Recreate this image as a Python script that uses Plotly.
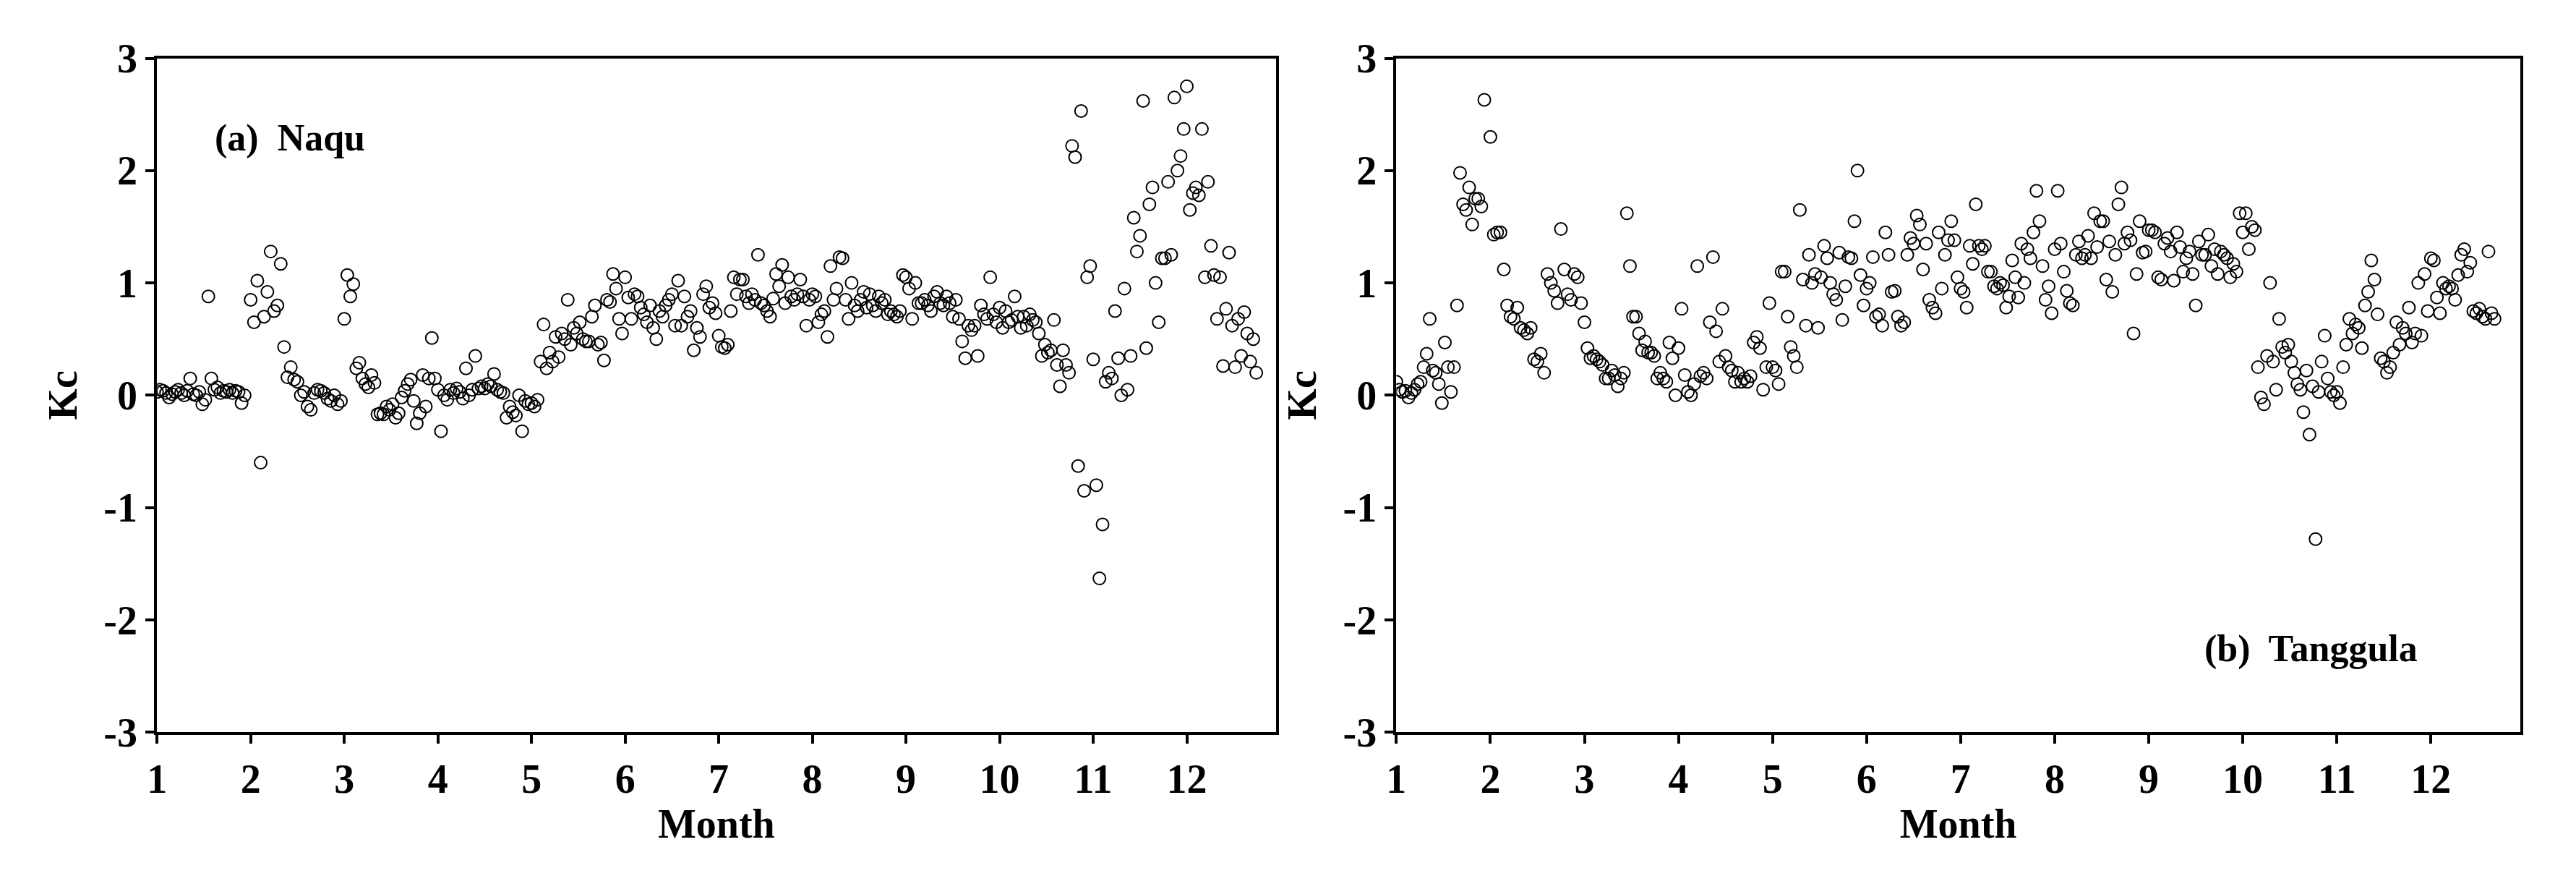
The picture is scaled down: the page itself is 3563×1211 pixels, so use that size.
import plotly.graph_objects as go
from plotly.subplots import make_subplots

days_in_month = [31, 28, 31, 30, 31, 30, 31, 31, 30, 31, 30, 31]

# Naqu daily Kc, one list per month
naqu = [
    [0.03, 0.05, 0.04, 0.02, -0.02, 0.01, 0.03, 0.05, 0.02, 0.0, 0.04, 0.15, 0.01, 0.0, 0.03,
     -0.08, -0.04, 0.88, 0.15, 0.05, 0.07, 0.02, 0.04, 0.03, 0.05, 0.02, 0.04, 0.03, -0.07, 0.0],
    [0.85, 0.65, 1.02, -0.6, 0.7, 0.92, 1.28, 0.75, 0.8, 1.17, 0.43, 0.16, 0.25, 0.14, 0.12,
     0.0, 0.03, -0.1, -0.13, 0.02, 0.05, 0.04, 0.02, -0.03, -0.05, 0.0, -0.08, -0.05],
    [0.68, 1.07, 0.88, 0.99, 0.24, 0.29, 0.15, 0.1, 0.07, 0.18, 0.11, -0.17, -0.16, -0.17, -0.1,
     -0.13, -0.08, -0.2, -0.16, -0.02, 0.04, 0.1, 0.14, -0.05, -0.25, -0.16, 0.18, -0.1, 0.15, 0.51, 0.15],
    [0.05, -0.32, 0.0, -0.04, 0.05, 0.02, 0.06, 0.03, -0.03, 0.24, 0.0, 0.05, 0.35, 0.06, 0.08,
     0.06, 0.1, 0.08, 0.19, 0.05, 0.03, 0.02, -0.2, -0.1, -0.15, -0.18, 0.0, -0.32, -0.05, -0.08],
    [-0.07, -0.1, -0.04, 0.3, 0.63, 0.24, 0.38, 0.3, 0.52, 0.34, 0.55, 0.5, 0.85, 0.45, 0.6,
     0.55, 0.65, 0.5, 0.48, 0.48, 0.7, 0.8, 0.45, 0.47, 0.31, 0.85, 0.83, 1.08, 0.95, 0.68, 0.55],
    [1.05, 0.87, 0.68, 0.9, 0.88, 0.78, 0.72, 0.65, 0.8, 0.6, 0.5, 0.75, 0.7, 0.8, 0.85,
     0.9, 0.62, 1.02, 0.62, 0.88, 0.7, 0.75, 0.4, 0.6, 0.52, 0.9, 0.97, 0.78, 0.82, 0.73],
    [0.53, 0.43, 0.42, 0.45, 0.75, 1.05, 0.9, 1.03, 1.03, 0.88, 0.82, 0.9, 0.85, 1.25, 0.82,
     0.8, 0.75, 0.7, 0.86, 1.08, 0.97, 1.16, 0.82, 1.05, 0.88, 0.85, 0.9, 1.03, 0.88, 0.62, 0.85],
    [0.9, 0.88, 0.65, 0.72, 0.75, 0.52, 1.15, 0.85, 0.95, 1.23, 1.22, 0.85, 0.68, 1.0, 0.8,
     0.75, 0.85, 0.92, 0.78, 0.9, 0.8, 0.75, 0.88, 0.82, 0.85, 0.72, 0.75, 0.72, 0.7, 0.75, 1.07],
    [1.05, 0.95, 0.68, 1.0, 0.82, 0.82, 0.85, 0.8, 0.75, 0.88, 0.92, 0.82, 0.8, 0.88, 0.82,
     0.7, 0.85, 0.68, 0.48, 0.33, 0.62, 0.58, 0.62, 0.35, 0.8, 0.72, 0.68, 1.05, 0.72, 0.65],
    [0.78, 0.6, 0.75, 0.65, 0.67, 0.88, 0.7, 0.6, 0.7, 0.62, 0.72, 0.67, 0.65, 0.55, 0.35,
     0.45, 0.38, 0.4, 0.67, 0.27, 0.08, 0.4, 0.27, 0.2, 2.22, 2.12, -0.63, 2.53, -0.85, 1.05, 1.15],
    [0.32, -0.8, -1.63, -1.15, 0.12, 0.2, 0.15, 0.75, 0.33, 0.0, 0.95, 0.05, 0.35, 1.58, 1.28,
     1.42, 2.62, 0.42, 1.7, 1.85, 1.0, 0.65, 1.22, 1.22, 1.9, 1.25, 2.65, 2.0, 2.13, 2.37],
    [2.75, 1.65, 1.8, 1.85, 1.78, 2.37, 1.05, 1.9, 1.33, 1.07, 0.68, 1.05, 0.26, 0.77, 1.27,
     0.62, 0.25, 0.68, 0.35, 0.74, 0.55, 0.3, 0.5, 0.2],
]

# Tanggula daily Kc, one list per month
tanggula = [
    [0.12, 0.05, 0.03, 0.04, -0.02, 0.02, 0.05, 0.1, 0.12, 0.25, 0.37, 0.68, 0.22, 0.2, 0.1,
     -0.07, 0.47, 0.25, 0.03, 0.25, 0.8, 1.98, 1.7, 1.65, 1.85, 1.52, 1.75, 1.75, 1.68, 2.63],
    [2.3, 1.43, 1.45, 1.45, 1.12, 0.8, 0.7, 0.68, 0.78, 0.6, 0.58, 0.55, 0.6, 0.32, 0.3,
     0.37, 0.2, 1.08, 1.0, 0.93, 0.82, 1.48, 1.12, 0.9, 0.85, 1.08, 1.05, 0.82],
    [0.65, 0.42, 0.33, 0.35, 0.32, 0.3, 0.27, 0.15, 0.15, 0.22, 0.18, 0.08, 0.15, 0.2, 1.62,
     1.15, 0.7, 0.7, 0.55, 0.4, 0.48, 0.38, 0.38, 0.35, 0.15, 0.2, 0.15, 0.12, 0.47, 0.33, 0.0],
    [0.42, 0.77, 0.18, 0.03, 0.0, 0.1, 1.15, 0.17, 0.2, 0.15, 0.65, 1.23, 0.57, 0.3, 0.77,
     0.35, 0.25, 0.22, 0.12, 0.2, 0.12, 0.15, 0.12, 0.17, 0.47, 0.52, 0.42, 0.05, 0.25, 0.82],
    [0.25, 0.22, 0.1, 1.1, 1.1, 0.7, 0.43, 0.35, 0.25, 1.65, 1.03, 0.62, 1.25, 1.0, 1.08,
     0.6, 1.05, 1.33, 1.22, 1.0, 0.9, 0.85, 1.27, 0.67, 0.97, 1.23, 1.22, 1.55, 2.0, 1.07, 0.8],
    [0.95, 1.0, 1.23, 0.7, 0.72, 0.62, 1.45, 1.25, 0.92, 0.93, 0.7, 0.62, 0.65, 1.25, 1.4,
     1.35, 1.6, 1.52, 1.12, 1.35, 0.85, 0.78, 0.73, 1.45, 0.95, 1.25, 1.38, 1.55, 1.38, 1.05],
    [0.95, 0.92, 0.78, 1.33, 1.17, 1.7, 1.33, 1.3, 1.33, 1.1, 1.1, 0.97, 0.95, 1.0, 0.98,
     0.78, 0.88, 1.2, 1.05, 0.87, 1.35, 1.0, 1.3, 1.22, 1.45, 1.82, 1.55, 1.15, 0.85, 0.97, 0.73],
    [1.3, 1.82, 1.35, 1.1, 0.93, 0.82, 0.8, 1.25, 1.37, 1.22, 1.25, 1.42, 1.22, 1.62, 1.32,
     1.55, 1.55, 1.03, 1.37, 0.92, 1.25, 1.7, 1.85, 1.35, 1.45, 1.38, 0.55, 1.08, 1.55, 1.27, 1.28],
    [1.47, 1.47, 1.45, 1.05, 1.03, 1.35, 1.4, 1.28, 1.02, 1.45, 1.32, 1.1, 1.22, 1.28, 1.08,
     0.8, 1.37, 1.25, 1.25, 1.43, 1.15, 1.3, 1.08, 1.28, 1.25, 1.22, 1.05, 1.17, 1.1, 1.62],
    [1.45, 1.62, 1.3, 1.5, 1.47, 0.25, -0.02, -0.08, 0.35, 1.0, 0.3, 0.05, 0.68, 0.43, 0.38,
     0.45, 0.3, 0.2, 0.1, 0.05, -0.15, 0.22, -0.35, 0.08, -1.28, 0.03, 0.3, 0.53, 0.15, 0.03, 0.0],
    [0.03, -0.07, 0.25, 0.45, 0.68, 0.55, 0.63, 0.6, 0.42, 0.8, 0.92, 1.2, 1.03, 0.72, 0.33,
     0.3, 0.2, 0.25, 0.38, 0.65, 0.45, 0.6, 0.55, 0.78, 0.47, 0.55, 1.0, 0.53, 1.08, 0.75],
    [1.22, 1.2, 0.87, 0.73, 1.0, 0.95, 0.97, 0.95, 0.85, 1.07, 1.25, 1.3, 1.1, 1.18, 0.75,
     0.73, 0.77, 0.7, 0.68, 1.28, 0.73, 0.68],
]

months = list(range(1, 13))
kc_ticks = [-3, -2, -1, 0, 1, 2, 3]


def flatten(monthly):
    xs, ys = [], []
    for m, vals in enumerate(monthly):
        for i, v in enumerate(vals):
            xs.append(m + 1 + i / days_in_month[m])
            ys.append(v)
    return xs, ys


font = "Liberation Serif"
fig = make_subplots(rows=1, cols=2, horizontal_spacing=0.05)

for col, data in [(1, naqu), (2, tanggula)]:
    x, y = flatten(data)
    fig.add_trace(go.Scatter(
        x=x, y=y, mode="markers",
        marker=dict(symbol="circle-open", size=17, color="black", line=dict(width=2)),
        showlegend=False), row=1, col=col)

axis_common = dict(
    showline=True, linecolor="black", linewidth=4, mirror=True,
    ticks="outside", ticklen=12, tickwidth=4, tickcolor="black",
    showgrid=False, zeroline=False,
    tickfont=dict(family=font, size=56, color="black"),
)
fig.update_xaxes(range=[1, 12.95], tickvals=months, ticktext=["<b>%d</b>" % m for m in months],
                 title=dict(text="<b>Month</b>", font=dict(family=font, size=56, color="black"), standoff=5),
                 **axis_common)
fig.update_yaxes(range=[-3, 3], tickvals=kc_ticks,
                 ticktext=["<b>%d</b>" % v for v in kc_ticks],
                 title=dict(text="<b>Kc</b>", font=dict(family=font, size=56, color="black"), standoff=20),
                 **axis_common)

fig.update_layout(
    xaxis=dict(domain=[0.055, 0.491]),
    xaxis2=dict(domain=[0.538, 0.976]),
    yaxis=dict(domain=[0.152, 0.963]),
    yaxis2=dict(domain=[0.152, 0.963]),
    width=3563, height=1211,
    margin=dict(l=0, r=0, t=0, b=0),
    plot_bgcolor="white", paper_bgcolor="white",
    annotations=[
        dict(text="<b>(a)  Naqu</b>", xref="x domain", yref="y domain", x=0.05, y=0.915,
             xanchor="left", showarrow=False, font=dict(family=font, size=52, color="black")),
        dict(text="<b>(b)  Tanggula</b>", xref="x2 domain", yref="y2 domain", x=0.91, y=0.09,
             xanchor="right", showarrow=False, font=dict(family=font, size=52, color="black")),
    ],
)

fig.write_html("out.html")
